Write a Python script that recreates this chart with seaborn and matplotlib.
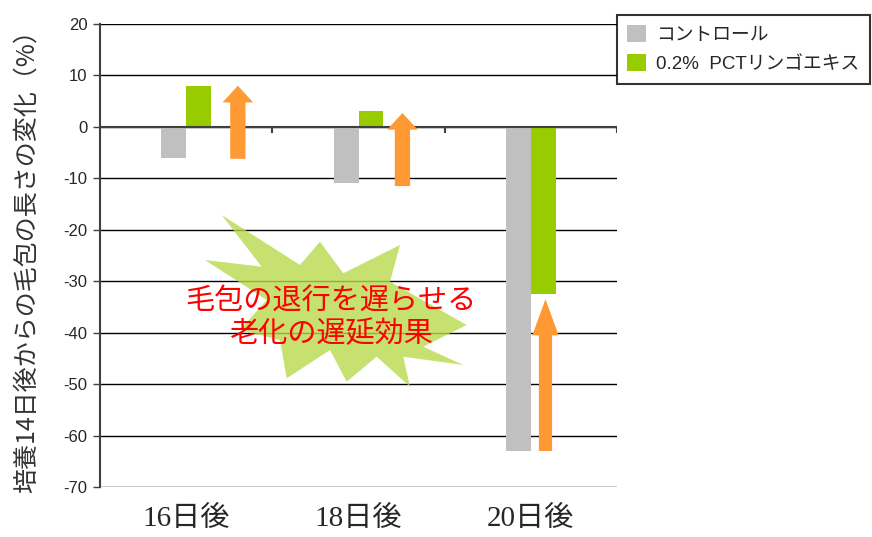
import numpy as np
import pandas as pd
import matplotlib
matplotlib.use("Agg")
import matplotlib.pyplot as plt
from matplotlib.patches import Patch, Polygon
import seaborn as sns

# data
days = ["16日後", "18日後", "20日後"]
series = ["コントロール", "0.2%  PCTリンゴエキス"]
control = [-6, -11, -63]
extract = [8, 3, -32.5]

# orange arrows: x position (category units), start and end value
arrow_x = [0.30, 1.255, 2.085]
arrow_from = [-6.2, -11.5, -63]
arrow_to = [8, 2.7, -33.5]

y_ticks = list(range(-70, 30, 10))
note = "毛包の退行を遅らせる\n老化の遅延効果"
y_label = "培養14日後からの毛包の長さの変化（%）"

gray = "#C0C0C0"
green = "#99CC00"
orange = "#FF9933"

df = pd.DataFrame({
    "day": days * 2,
    "series": [series[0]] * 3 + [series[1]] * 3,
    "change": control + extract,
})

sns.set_style("white")
plt.rcParams["font.family"] = ["Liberation Sans", "Noto Sans CJK JP"]
plt.rcParams["axes.unicode_minus"] = False

W, H = 872, 537
fig = plt.figure(figsize=(W / 100, H / 100), dpi=100)
ax = fig.add_axes([100 / W, 1 - 487 / H, 517 / W, 463 / H])

sns.barplot(data=df, x="day", y="change", hue="series", palette=[gray, green],
            width=0.29, saturation=1, linewidth=0, legend=False, ax=ax, zorder=3)

ax.set_xlim(-0.5, 2.5)
ax.set_ylim(-70, 20)
ax.set_yticks(y_ticks)
ax.yaxis.grid(True, color="black", lw=1)
ax.set_axisbelow(True)
for s in ["top", "right", "bottom"]:
    ax.spines[s].set_visible(False)
ax.spines["left"].set_color("#404040")
ax.spines["left"].set_linewidth(1.5)
ax.axhline(0, color="#404040", lw=1.5, zorder=4)
ax.vlines([0.5, 1.5, 2.5], -1.1, 0, color="#404040", lw=1.5, zorder=4)

ax.tick_params(axis="y", length=5, width=1, color="#404040", pad=4, labelsize=12, left=True)
ax.tick_params(axis="x", length=0, pad=14)
for lab in ax.get_yticklabels():
    lab.set_family(["Liberation Sans"])
ax.set_xticks(range(len(days)))
ax.set_xticklabels(days, fontsize=21, family=["Liberation Serif", "Noto Sans CJK JP"])
ax.set_xlabel("")
ax.set_ylabel(y_label, fontsize=18, family=["Noto Sans CJK JP"], color="#333333", labelpad=17)

# burst shape behind the note (figure pixels)
burst_px = [(221.7, 215), (300, 265), (320, 241.7), (343.3, 273.3), (400, 245),
            (390, 281.7), (466.7, 325), (423.3, 346.7), (463.3, 365), (403.3, 356.7),
            (410, 386.7), (376.7, 356.7), (346.7, 381.7), (330, 350), (286.7, 378.3),
            (280, 340), (240, 330), (266.7, 300), (205, 260), (261.7, 266.7)]
burst = Polygon([(x / W, 1 - y / H) for x, y in burst_px], closed=True,
                transform=fig.transFigure, facecolor="#B9DA4E", alpha=0.8,
                edgecolor="none", zorder=2)
ax.add_patch(burst)
fig.text(331 / W, 1 - 318 / H, note, ha="center", va="center", color="#FF0000",
         fontsize=21, family=["Noto Sans CJK JP"], linespacing=1.1, zorder=5)

# arrows
styles = ["simple,head_length=12,head_width=22,tail_width=11",
          "simple,head_length=12,head_width=22,tail_width=11",
          "simple,head_length=26,head_width=19,tail_width=9.5"]
for x, y0, y1, st in zip(arrow_x, arrow_from, arrow_to, styles):
    ax.annotate("", xy=(x, y1), xytext=(x, y0),
                arrowprops=dict(arrowstyle=st, mutation_scale=1, color=orange,
                                shrinkA=0, shrinkB=0, lw=0), zorder=5)

handles = [Patch(facecolor=gray, edgecolor="none"), Patch(facecolor=green, edgecolor="none")]
leg = fig.legend(handles, series, loc="upper left", bbox_to_anchor=(617 / W, 1 - 15 / H),
                 fontsize=13.5, frameon=True, fancybox=False, handlelength=1.0,
                 handleheight=1.0, handletextpad=0.55, borderpad=0.55, labelspacing=0.55,
                 borderaxespad=0)
leg.get_frame().set_edgecolor("black")
leg.get_frame().set_linewidth(1.5)

fig.savefig("out.png", dpi=100)
